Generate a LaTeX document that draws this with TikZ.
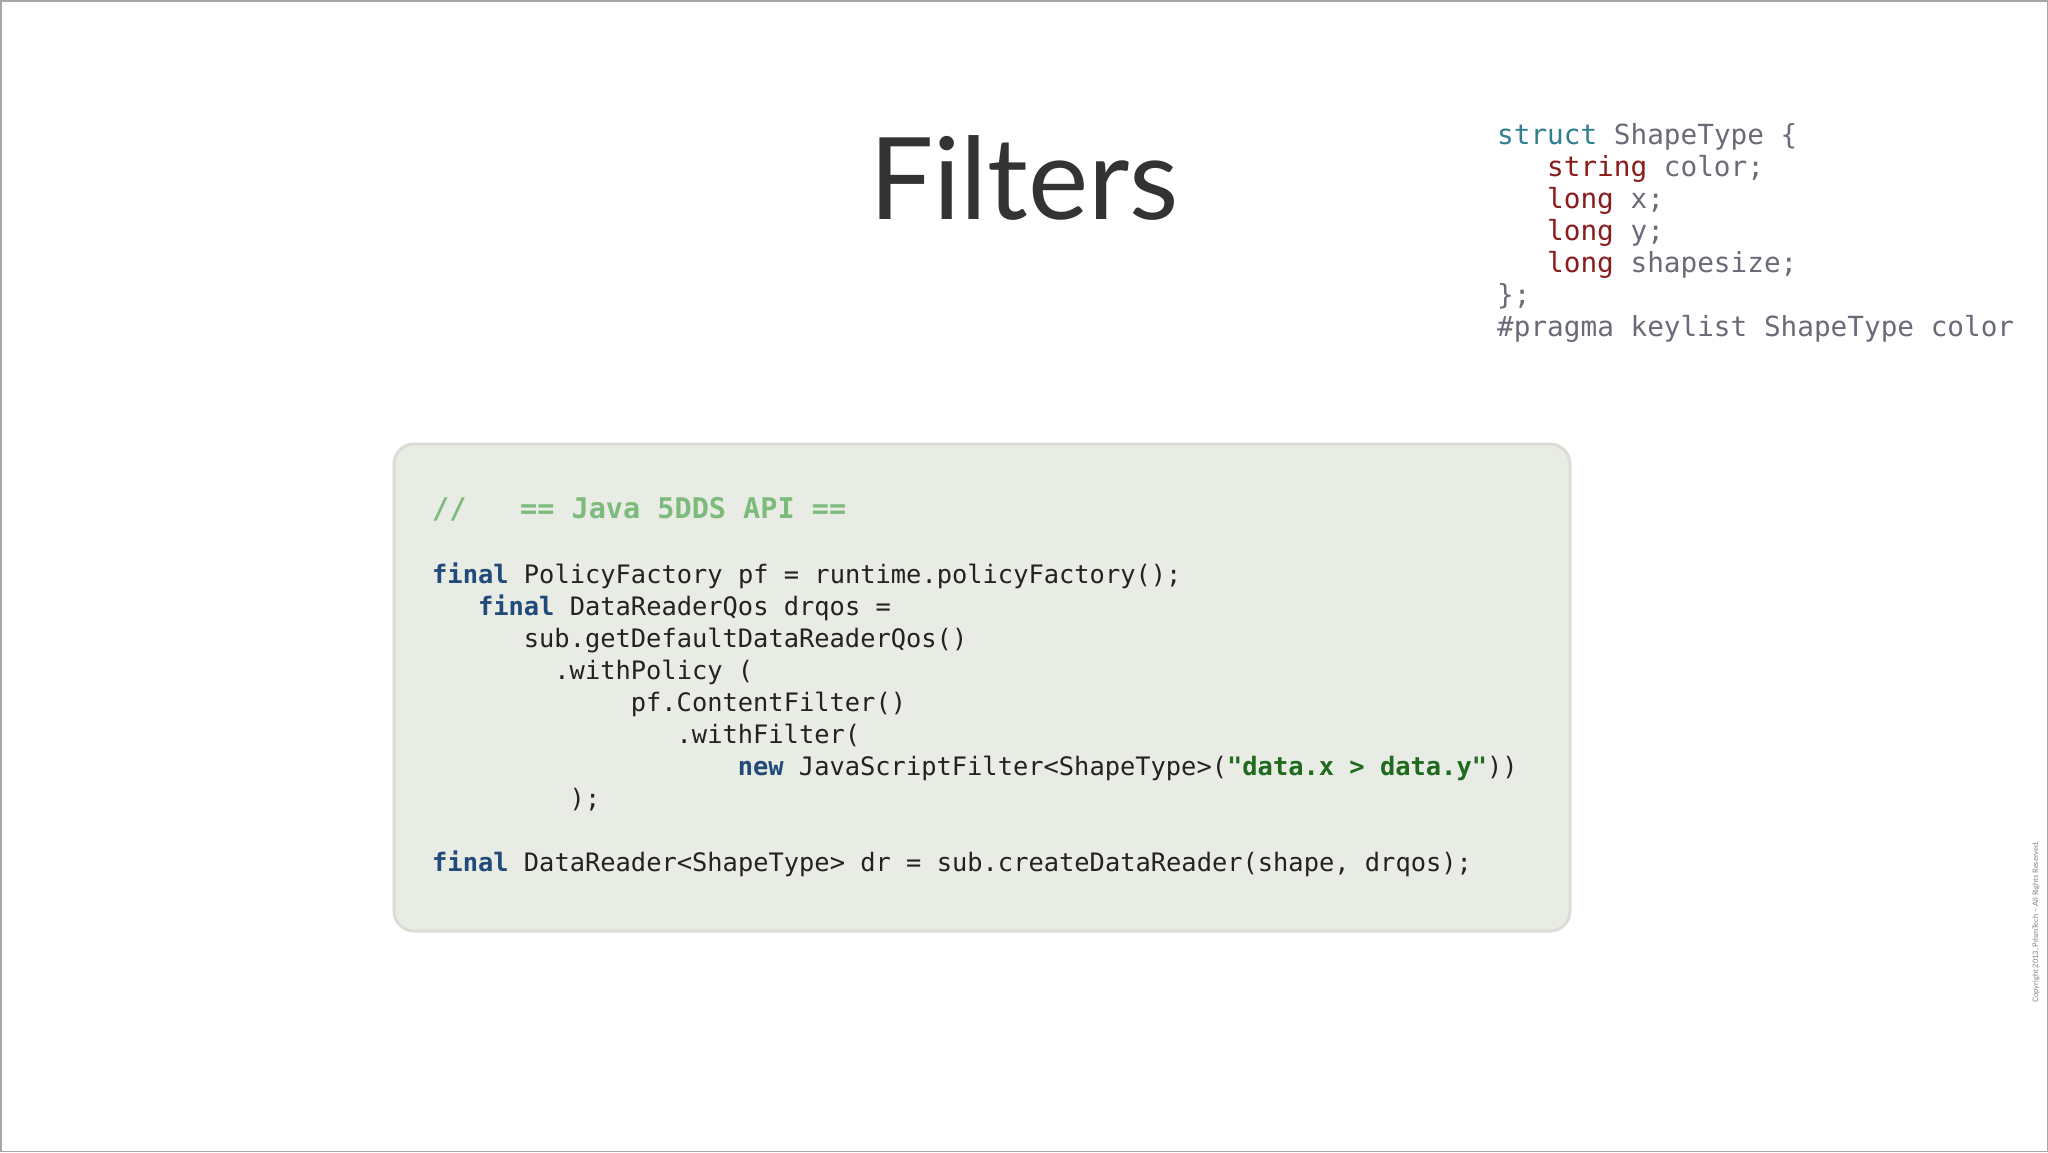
\documentclass[tikz,border=0pt]{standalone}
\usepackage{fontspec}
\setmainfont{Lato}
\setmonofont{DejaVu Sans Mono}
\definecolor{kw}{HTML}{1F4A7A}
\definecolor{str}{HTML}{1E6A1E}
\definecolor{cmt}{HTML}{7CBB7C}
\definecolor{txt}{HTML}{222222}
\definecolor{teal}{HTML}{2F7F8F}
\definecolor{sgray}{HTML}{6A6A78}
\definecolor{dred}{HTML}{8A1C1C}
\definecolor{boxfill}{HTML}{E9ECE4}
\definecolor{boxline}{HTML}{DADDD4}
\newcommand{\kwd}[1]{\textcolor{kw}{\bfseries #1}}
\begin{document}
\begin{tikzpicture}[x=1pt,y=-1pt,
  code/.style={anchor=base west,inner sep=0pt,font=\fontsize{25.4}{30}\ttfamily,text=txt},
  scode/.style={anchor=base west,inner sep=0pt,font=\fontsize{27.7}{32}\ttfamily,text=sgray}]
\useasboundingbox (0,0) rectangle (2048,1152);
\draw[gray!70,line width=1.5pt] (0.75,0.75) rectangle (2047.25,1151.25);
\node[inner sep=0pt,font=\fontsize{114}{120}\selectfont,text=black!80] (title) at (1024,178) {Filters};
% struct
\def\sx{1497}
\node[scode] (s1) at (\sx,144) {\textcolor{teal}{struct} ShapeType \{};
\node[scode] (s2) at (\sx+50,176) {\textcolor{dred}{string} color;};
\node[scode] (s3) at (\sx+50,208) {\textcolor{dred}{long} x;};
\node[scode] (s4) at (\sx+50,240) {\textcolor{dred}{long} y;};
\node[scode] (s5) at (\sx+50,272) {\textcolor{dred}{long} shapesize;};
\node[scode] (s6) at (\sx,304) {\};};
\node[scode] (s7) at (\sx,336) {\#pragma keylist ShapeType color};
% box
\draw[fill=boxfill,draw=boxline,line width=3pt,rounded corners=20pt] (394,444) rectangle (1570,931);
\def\cx{432}\def\cw{15.28}
\node[code,text=cmt,font=\fontsize{28.5}{30}\ttfamily\bfseries] (c0) at (\cx,518) {//};
\node[code,text=cmt,font=\fontsize{28.5}{30}\ttfamily\bfseries] (c0b) at (520,518) {== Java 5DDS API ==};
\node[code] (c1) at (\cx,583) {\kwd{final} PolicyFactory pf = runtime.policyFactory();};
\node[code] (c2) at (\cx+3*\cw,615) {\kwd{final} DataReaderQos drqos =};
\node[code] (c3) at (\cx+6*\cw,647) {sub.getDefaultDataReaderQos()};
\node[code] (c4) at (\cx+8*\cw,679) {.withPolicy (};
\node[code] (c5) at (\cx+13*\cw,711) {pf.ContentFilter()};
\node[code] (c6) at (\cx+16*\cw,743) {.withFilter(};
\node[code] (c7) at (\cx+20*\cw,775) {\kwd{new} JavaScriptFilter<ShapeType>(\textcolor{str}{\bfseries"data.x > data.y"}))};
\node[code] (c8) at (\cx+9*\cw,807) {);};
\node[code] (c9) at (\cx,871) {\kwd{final} DataReader<ShapeType> dr = sub.createDataReader(shape, drqos);};
\node[rotate=90,inner sep=0pt,font=\fontsize{7.5}{8}\selectfont,text=gray] (copy) at (2036,922) {Copyright 2013, PrismTech -- All Rights Reserved.};
\end{tikzpicture}
\end{document}
